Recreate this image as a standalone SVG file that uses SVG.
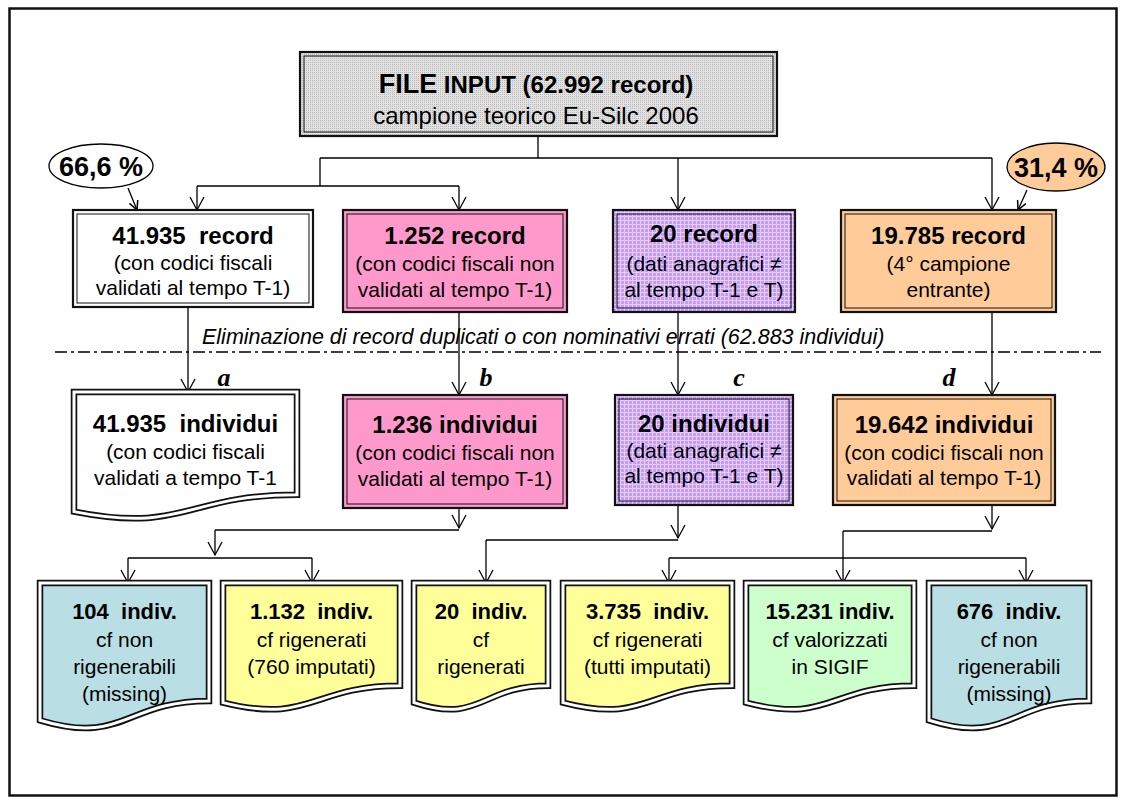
<svg xmlns="http://www.w3.org/2000/svg" width="1126" height="804" viewBox="0 0 1126 804">
  <style>
    text { font-family: "Liberation Sans", Arial, sans-serif; fill: #000; text-anchor: middle; white-space: pre; }
    .b24 { font-size: 24px; font-weight: bold; }
    .b22 { font-size: 22px; font-weight: bold; }
    .b27 { font-size: 27px; font-weight: bold; }
    .r24 { font-size: 24px; }
    .r21 { font-size: 21px; }
    .note { font-size: 21.5px; font-style: italic; text-anchor: start; }
    .tag { font-family: "Liberation Serif", "Times New Roman", serif; font-size: 26px; font-weight: bold; font-style: italic; }
    .frame-o { fill: none; stroke: #111; stroke-width: 2.2; }
    .frame-i { fill: none; stroke: #111; stroke-width: 1; }
    .doc-o { stroke: #111; stroke-width: 6.5; stroke-linejoin: miter; }
    .doc-i { fill: none; stroke: #fff; stroke-width: 3; stroke-linejoin: miter; }
    .wire { fill: none; stroke: #000; stroke-width: 1.3; }
    .arrow { fill: none; stroke: #000; stroke-width: 1.3; marker-end: url(#vhead); }
    .pin { fill: none; stroke: #000; stroke-width: 1.3; marker-end: url(#vsmall); }
  </style>
  <defs>
    <marker id="vhead" markerUnits="userSpaceOnUse" markerWidth="16" markerHeight="16" viewBox="-14 -8 16 16" refX="0" refY="0" orient="auto">
      <path d="M-13,-7 L0,0 L-13,7" fill="none" stroke="#000" stroke-width="1.3"/>
    </marker>
    <marker id="vsmall" markerUnits="userSpaceOnUse" markerWidth="12" markerHeight="12" viewBox="-10 -6 12 12" refX="0" refY="0" orient="auto">
      <path d="M-9,-4.5 L0,0 L-9,4.5" fill="none" stroke="#000" stroke-width="1.5"/>
    </marker>
    <pattern id="greyDots" width="2" height="2" patternUnits="userSpaceOnUse">
      <rect width="2" height="2" fill="#e2e2e2"/>
      <rect width="1" height="1" fill="#b8b8b8"/>
    </pattern>
    <pattern id="lilacGrid" width="4" height="4" patternUnits="userSpaceOnUse">
      <rect width="4" height="4" fill="#c79af4"/>
      <rect width="4" height="1" fill="#e3cffd"/>
      <rect width="1" height="4" fill="#e3cffd"/>
    </pattern>
  </defs>

  <!-- page frame -->
  <rect x="9.5" y="8.5" width="1107" height="787" fill="#fff" stroke="#111" stroke-width="2.5"/>

  <!-- connectors -->
  <g id="connectors">
    <!-- input file to the four record groups -->
    <polyline class="wire" points="538,136 538,158"/>
    <polyline class="wire" points="320,158 992,158"/>
    <polyline class="arrow" points="992,158 992,210"/>
    <polyline class="arrow" points="678,158 678,210"/>
    <polyline class="wire" points="320,158 320,186"/>
    <polyline class="wire" points="197,186 459,186"/>
    <polyline class="arrow" points="197,186 197,210"/>
    <polyline class="arrow" points="459,186 459,210"/>
    <!-- share bubbles -->
    <line class="pin" x1="128" y1="188" x2="137" y2="210"/>
    <line class="pin" x1="1027" y1="190" x2="1018" y2="210"/>
    <!-- records to individuals -->
    <polyline class="arrow" points="188,307 188,392"/>
    <polyline class="arrow" points="459,312 459,395"/>
    <polyline class="arrow" points="678,312 678,395"/>
    <polyline class="arrow" points="992,312 992,395"/>
    <!-- dedup line -->
    <line x1="55" y1="352" x2="1101" y2="352" stroke="#000" stroke-width="1.3" stroke-dasharray="12 4 3 4"/>
    <!-- b branch -->
    <polyline class="arrow" points="459,508 459,528"/>
    <polyline class="wire" points="215,530 459,530"/>
    <polyline class="arrow" points="215,530 215,555"/>
    <polyline class="wire" points="128,558 312,558"/>
    <polyline class="arrow" points="128,558 128,583"/>
    <polyline class="arrow" points="312,558 312,583"/>
    <!-- c branch -->
    <polyline class="arrow" points="678,505 678,538"/>
    <polyline class="wire" points="486,540 678,540"/>
    <polyline class="arrow" points="486,540 486,583"/>
    <!-- d branch -->
    <polyline class="arrow" points="992,505 992,529"/>
    <polyline class="wire" points="843,531 992,531"/>
    <polyline class="arrow" points="843,531 843,583"/>
    <polyline class="wire" points="669,558 1026,558"/>
    <polyline class="arrow" points="669,558 669,583"/>
    <polyline class="arrow" points="1026,558 1026,583"/>
  </g>

  <text class="note" x="202" y="344">Eliminazione di record duplicati o con nominativi errati (62.883 individui)</text>

  <!-- input file -->
  <g id="file-input">
    <rect x="300" y="52" width="477" height="84" fill="url(#greyDots)"/>
    <rect class="frame-o" x="300" y="52" width="477" height="84"/>
    <rect class="frame-i" x="304" y="56" width="469" height="76"/>
    <text x="536" y="93"><tspan class="b27">FILE</tspan><tspan class="b24"> INPUT (62.992 record)</tspan></text>
    <text class="r24" x="536" y="124">campione teorico Eu-Silc 2006</text>
  </g>

  <g id="share-666">
    <ellipse cx="101" cy="166" rx="52" ry="22" fill="#fff" stroke="#000" stroke-width="1.3"/>
    <text class="b27" x="101" y="176">66,6 %</text>
  </g>
  <g id="share-314">
    <ellipse cx="1056" cy="167" rx="49" ry="24" fill="#ffcc99" stroke="#000" stroke-width="1.3"/>
    <text class="b27" x="1056" y="177">31,4 %</text>
  </g>

  <!-- record groups -->
  <g id="rec-valid">
    <rect x="73" y="210" width="240" height="97" fill="#fff"/>
    <rect class="frame-o" x="73" y="210" width="240" height="97"/>
    <rect class="frame-i" x="77" y="214" width="232" height="89"/>
    <text class="b24" x="193" y="244">41.935  record</text>
    <text class="r21" x="193" y="270">(con codici fiscali</text>
    <text class="r21" x="193" y="295">validati al tempo T-1)</text>
  </g>
  <g id="rec-notvalid">
    <rect x="343" y="210" width="224" height="102" fill="#ff99cc"/>
    <rect class="frame-o" x="343" y="210" width="224" height="102"/>
    <rect class="frame-i" x="347" y="214" width="216" height="94"/>
    <text class="b24" x="455" y="244">1.252 record</text>
    <text class="r21" x="455" y="271">(con codici fiscali non</text>
    <text class="r21" x="455" y="297">validati al tempo T-1)</text>
  </g>
  <g id="rec-anag">
    <rect x="613" y="210" width="182" height="102" fill="url(#lilacGrid)"/>
    <rect class="frame-o" x="613" y="210" width="182" height="102"/>
    <rect class="frame-i" x="617" y="214" width="174" height="94"/>
    <text class="b24" x="704" y="242">20 record</text>
    <text class="r21" x="704" y="271">(dati anagrafici ≠</text>
    <text class="r21" x="704" y="297">al tempo T-1 e T)</text>
  </g>
  <g id="rec-new">
    <rect x="841" y="210" width="215" height="102" fill="#ffcc99"/>
    <rect class="frame-o" x="841" y="210" width="215" height="102"/>
    <rect class="frame-i" x="845" y="214" width="207" height="94"/>
    <text class="b24" x="948.5" y="244">19.785 record</text>
    <text class="r21" x="948.5" y="271">(4° campione</text>
    <text class="r21" x="948.5" y="297">entrante)</text>
  </g>

  <!-- group tags -->
  <text class="tag" x="224" y="386">a</text>
  <text class="tag" x="486" y="386">b</text>
  <text class="tag" x="739" y="386">c</text>
  <text class="tag" x="949" y="386">d</text>

  <!-- individuals -->
  <g id="ind-a">
    <path class="doc-o" fill="#fff" d="M74,392 H297 V494.7 C185.5,494.7 185.5,533.7 74,511.6 Z"/>
    <path class="doc-i" d="M74,392 H297 V494.7 C185.5,494.7 185.5,533.7 74,511.6 Z"/>
    <text class="b24" x="185.5" y="432">41.935  individui</text>
    <text class="r21" x="185.5" y="459">(con codici fiscali</text>
    <text class="r21" x="185.5" y="485">validati a tempo T-1</text>
  </g>
  <g id="ind-b">
    <rect x="343" y="395" width="224" height="113" fill="#ff99cc"/>
    <rect class="frame-o" x="343" y="395" width="224" height="113"/>
    <rect class="frame-i" x="347" y="399" width="216" height="105"/>
    <text class="b24" x="455" y="433">1.236 individui</text>
    <text class="r21" x="455" y="460">(con codici fiscali non</text>
    <text class="r21" x="455" y="486">validati al tempo T-1)</text>
  </g>
  <g id="ind-c">
    <rect x="615" y="395" width="178" height="110" fill="url(#lilacGrid)"/>
    <rect class="frame-o" x="615" y="395" width="178" height="110"/>
    <rect class="frame-i" x="619" y="399" width="170" height="102"/>
    <text class="b24" x="704" y="432">20 individui</text>
    <text class="r21" x="704" y="458">(dati anagrafici ≠</text>
    <text class="r21" x="704" y="483">al tempo T-1 e T)</text>
  </g>
  <g id="ind-d">
    <rect x="833" y="395" width="222" height="110" fill="#ffcc99"/>
    <rect class="frame-o" x="833" y="395" width="222" height="110"/>
    <rect class="frame-i" x="837" y="399" width="214" height="102"/>
    <text class="b24" x="944" y="433">19.642 individui</text>
    <text class="r21" x="944" y="460">(con codici fiscali non</text>
    <text class="r21" x="944" y="485">validati al tempo T-1)</text>
  </g>

  <!-- outcomes -->
  <g id="out-104">
    <path class="doc-o" fill="#b9dfe4" d="M40,583 H209 V700.9 C124.5,700.9 124.5,745.7 40,720.3 Z"/>
    <path class="doc-i" d="M40,583 H209 V700.9 C124.5,700.9 124.5,745.7 40,720.3 Z"/>
    <text class="b22" x="124.5" y="619">104  indiv.</text>
    <text class="r21" x="124.5" y="647">cf non</text>
    <text class="r21" x="124.5" y="674">rigenerabili</text>
    <text class="r21" x="124.5" y="701">(missing)</text>
  </g>
  <g id="out-1132">
    <path class="doc-o" fill="#ffff99" d="M223,583 H400 V685.7 C311.5,685.7 311.5,724.7 223,702.6 Z"/>
    <path class="doc-i" d="M223,583 H400 V685.7 C311.5,685.7 311.5,724.7 223,702.6 Z"/>
    <text class="b22" x="311.5" y="619">1.132  indiv.</text>
    <text class="r21" x="311.5" y="647">cf rigenerati</text>
    <text class="r21" x="311.5" y="674">(760 imputati)</text>
  </g>
  <g id="out-20">
    <path class="doc-o" fill="#ffff99" d="M414,583 H548 V685.7 C481,685.7 481,724.7 414,702.6 Z"/>
    <path class="doc-i" d="M414,583 H548 V685.7 C481,685.7 481,724.7 414,702.6 Z"/>
    <text class="b22" x="481" y="619">20  indiv.</text>
    <text class="r21" x="481" y="647">cf</text>
    <text class="r21" x="481" y="674">rigenerati</text>
  </g>
  <g id="out-3735">
    <path class="doc-o" fill="#ffff99" d="M563,583 H732 V685.7 C647.5,685.7 647.5,724.7 563,702.6 Z"/>
    <path class="doc-i" d="M563,583 H732 V685.7 C647.5,685.7 647.5,724.7 563,702.6 Z"/>
    <text class="b22" x="647.5" y="619">3.735  indiv.</text>
    <text class="r21" x="647.5" y="647">cf rigenerati</text>
    <text class="r21" x="647.5" y="674">(tutti imputati)</text>
  </g>
  <g id="out-15231">
    <path class="doc-o" fill="#ccffcc" d="M746,583 H914 V685.7 C830,685.7 830,724.7 746,702.6 Z"/>
    <path class="doc-i" d="M746,583 H914 V685.7 C830,685.7 830,724.7 746,702.6 Z"/>
    <text class="b22" x="830" y="619">15.231 indiv.</text>
    <text class="r21" x="830" y="647">cf valorizzati</text>
    <text class="r21" x="830" y="674">in SIGIF</text>
  </g>
  <g id="out-676">
    <path class="doc-o" fill="#b9dfe4" d="M929,583 H1089 V700.9 C1009,700.9 1009,745.7 929,720.3 Z"/>
    <path class="doc-i" d="M929,583 H1089 V700.9 C1009,700.9 1009,745.7 929,720.3 Z"/>
    <text class="b22" x="1009" y="619">676  indiv.</text>
    <text class="r21" x="1009" y="647">cf non</text>
    <text class="r21" x="1009" y="674">rigenerabili</text>
    <text class="r21" x="1009" y="701">(missing)</text>
  </g>
</svg>
